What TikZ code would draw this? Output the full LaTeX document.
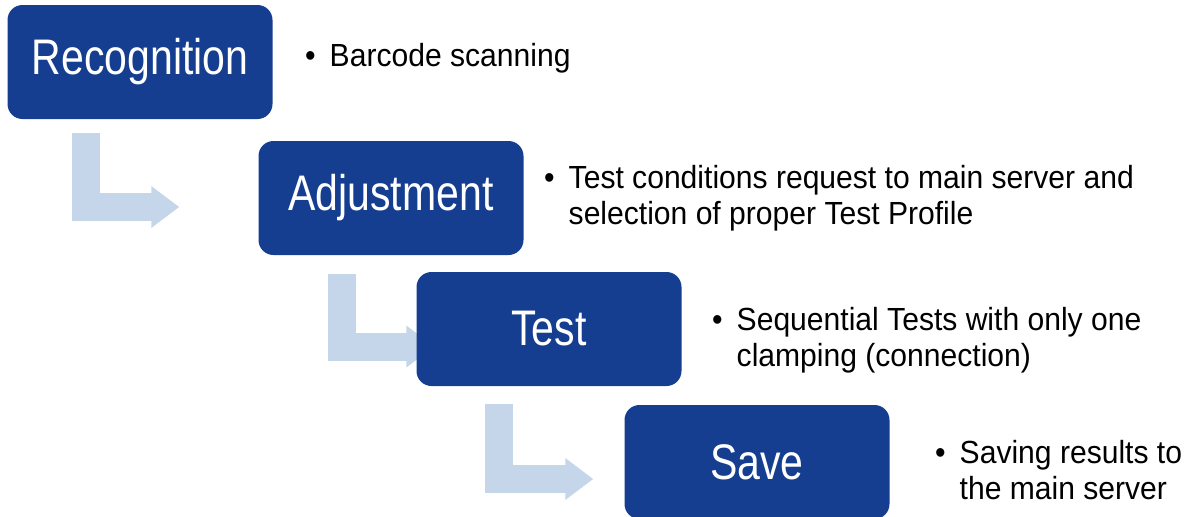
\documentclass[tikz,border=0pt]{standalone}
\usepackage{fontspec}
\setmainfont{Liberation Sans}
\newfontfamily\boxfont[FakeStretch=0.82]{Liberation Sans}
\newfontfamily\notefont[FakeStretch=0.94]{Liberation Sans}
\usetikzlibrary{arrows.meta,backgrounds}
\definecolor{boxblue}{HTML}{153E91}
\definecolor{elbowblue}{HTML}{C5D5EA}

\begin{document}
\begin{tikzpicture}[x=1pt, y=-1pt,
    stepbox/.style={fill=boxblue, text=white, rounded corners=15pt, minimum width=265pt, minimum height=114pt, inner sep=0pt, font=\boxfont\fontsize{50}{60}\selectfont},
    note/.style={anchor=base west, inner sep=0pt, font=\notefont\fontsize{32}{36}\selectfont},
    elbow/.style={draw=elbowblue, line width=28pt, line join=miter, -{Triangle[width=40pt, length=28pt]}}]
    \useasboundingbox (0,0) rectangle (1187,517);

    % steps
    \node[stepbox] (recognition) at (140,62) {Recognition};
    \node[stepbox] (adjustment) at (391,198) {Adjustment};
    \node[stepbox] (test) at (549,329) {Test};
    \node[stepbox] (save) at (757,462) {Save};

    % fat bent arrows, behind the boxes
    \coordinate (a1) at ([xshift=79pt, yshift=-14pt]recognition.south west);
    \coordinate (b1) at ([xshift=-79pt, yshift=-9pt]adjustment.west);
    \coordinate (a2) at ([xshift=83.5pt, yshift=-19pt]adjustment.south west);
    \coordinate (b2) at ([xshift=18pt, yshift=-17.5pt]test.west);
    \coordinate (a3) at ([xshift=82.5pt, yshift=-18pt]test.south west);
    \coordinate (b3) at ([xshift=-31pt, yshift=-17pt]save.west);
    \begin{scope}[on background layer]
        \draw[elbow] (a1) |- (b1);
        \draw[elbow] (a2) |- (b2);
        \draw[elbow] (a3) |- (b3);
    \end{scope}

    % notes
    \node[note] (n1) at (305,66) {\begin{tabular}[t]{@{}l@{\hspace{14pt}}l@{}}\textbullet & Barcode scanning\end{tabular}};
    \node[note] (n2) at (544,188) {\begin{tabular}[t]{@{}l@{\hspace{14pt}}l@{}}\textbullet & Test conditions request to main server and\\ & selection of proper Test Profile\end{tabular}};
    \node[note] (n3) at (712,330) {\begin{tabular}[t]{@{}l@{\hspace{14pt}}l@{}}\textbullet & Sequential Tests with only one\\ & clamping (connection)\end{tabular}};
    \node[note] (n4) at (935,463) {\begin{tabular}[t]{@{}l@{\hspace{14pt}}l@{}}\textbullet & Saving results to\\ & the main server\end{tabular}};

\end{tikzpicture}
\end{document}
